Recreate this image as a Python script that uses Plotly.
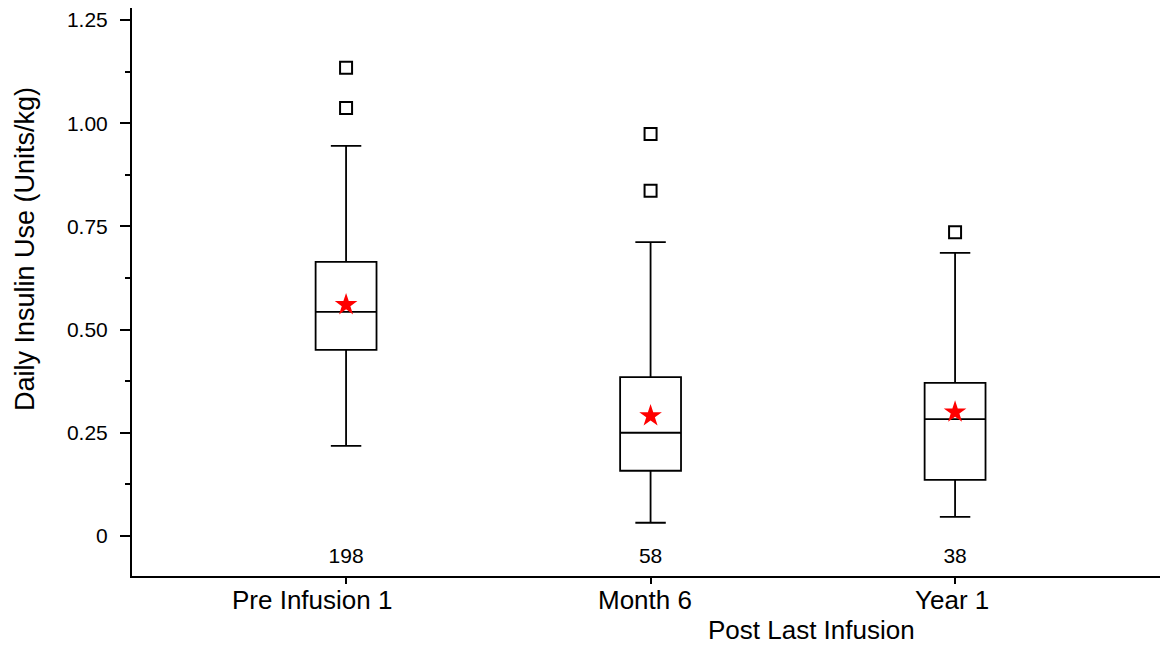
import plotly.graph_objects as go

categories = ["Pre Infusion 1", "Month 6", "Year 1"]
counts = [198, 58, 38]
q1 = [0.451, 0.158, 0.136]
median = [0.543, 0.250, 0.283]
q3 = [0.664, 0.385, 0.371]
whisker_low = [0.218, 0.032, 0.046]
whisker_high = [0.945, 0.712, 0.686]
means = [0.560, 0.291, 0.300]
outlier_cat = [0, 0, 1, 1, 2]
outlier_val = [1.134, 1.037, 0.974, 0.836, 0.736]

FONT = "Liberation Sans, Arial, sans-serif"
xpos = list(range(len(categories)))
label_shift = [-34, -6, -3]

fig = go.Figure()
for i in xpos:
    fig.add_trace(go.Box(
        x=[i], q1=[q1[i]], median=[median[i]], q3=[q3[i]],
        lowerfence=[whisker_low[i]], upperfence=[whisker_high[i]],
        width=0.2, whiskerwidth=0.5,
        line=dict(color="black", width=1.8),
        fillcolor="rgba(255,255,255,0)",
        boxpoints=False, showlegend=False, hoverinfo="skip",
    ))

fig.add_trace(go.Scatter(
    x=outlier_cat, y=outlier_val, mode="markers",
    marker=dict(symbol="square-open", size=12, color="black", line=dict(width=2)),
    showlegend=False,
))
fig.add_trace(go.Scatter(
    x=xpos, y=means, mode="markers",
    marker=dict(symbol="star", size=17, color="red", line=dict(width=0)),
    showlegend=False,
))
fig.add_trace(go.Scatter(
    x=xpos, y=[-0.053] * len(xpos), mode="text",
    text=[str(c) for c in counts], textposition="middle center",
    textfont=dict(family=FONT, size=21, color="black"),
    showlegend=False,
))

fig.update_layout(
    width=1163, height=648,
    margin=dict(l=132, r=3, t=8, b=72),
    plot_bgcolor="white", paper_bgcolor="white",
    font=dict(family=FONT, color="black"),
)
fig.update_xaxes(
    range=[-0.703, 2.673], tickvals=xpos, ticktext=[""] * len(xpos),
    showgrid=False, zeroline=False, showline=True, linecolor="black", linewidth=2,
    ticks="outside", ticklen=6, tickwidth=1.5, tickcolor="black",
)
fig.update_yaxes(
    range=[-0.097, 1.279],
    tickvals=[0, 0.25, 0.5, 0.75, 1.0, 1.25],
    ticktext=["0", "0.25", "0.50", "0.75", "1.00", "1.25"],
    showgrid=False, zeroline=False, showline=True, linecolor="black", linewidth=2,
    ticks="outside", ticklen=10, tickwidth=1.5, tickcolor="black",
    tickfont=dict(family=FONT, size=21, color="black"),
    ticklabelstandoff=8,
    minor=dict(tickvals=[0.125, 0.375, 0.625, 0.875, 1.125], ticks="outside",
               ticklen=5, tickwidth=1.5, tickcolor="black"),
)
for i in xpos:
    fig.add_annotation(
        x=i, xref="x", xshift=label_shift[i], y=-0.0423, yref="paper", yanchor="middle",
        text=categories[i], showarrow=False,
        font=dict(family=FONT, size=26, color="black"),
    )
fig.add_annotation(
    x=0, xref="paper", xshift=-107, xanchor="center",
    y=0.5757, yref="paper", yanchor="middle",
    text="Daily Insulin Use (Units/kg)", textangle=-90, showarrow=False,
    font=dict(family=FONT, size=27, color="black"),
)
fig.add_annotation(
    x=1.53, xref="x", y=-0.095, yref="paper", yanchor="middle",
    text="Post Last Infusion", showarrow=False,
    font=dict(family=FONT, size=26, color="black"),
)

fig.write_html(
    "out.html",
    config={"displayModeBar": False},
    post_script="document.body.style.margin='0';document.body.style.overflow='hidden';",
)
